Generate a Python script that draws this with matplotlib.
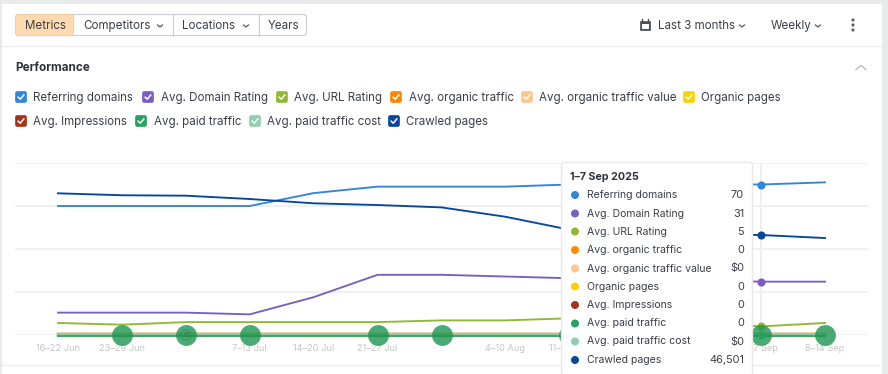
import matplotlib
matplotlib.use("Agg")
from matplotlib import pyplot as plt
from matplotlib.patches import Rectangle, FancyBboxPatch, Circle
from matplotlib.transforms import ScaledTranslation

plt.rcParams['font.family'] = ['Inter', 'DejaVu Sans']

W, H = 888, 374

weeks = ['16–22 Jun', '23–29 Jun', '30 Jun–6 Jul', '7–13 Jul', '14–20 Jul', '21–27 Jul', '28 Jul–3 Aug',
         '4–10 Aug', '11–17 Aug', '18–24 Aug', '25–31 Aug', '1–7 Sep', '8–14 Sep']
shown_weeks = ['16–22 Jun', '23–29 Jun', '7–13 Jul', '14–20 Jul', '21–27 Jul', '4–10 Aug', '11–17 Aug', '1–7 Sep', '8–14 Sep']
event_weeks = ['23–29 Jun', '30 Jun–6 Jul', '7–13 Jul', '21–27 Jul', '28 Jul–3 Aug', '11–17 Aug', '1–7 Sep', '8–14 Sep']

referring_domains = [60, 60, 60, 60, 66, 69, 69, 69, 70, 70, 70, 70, 71]
domain_rating = [13, 13, 13, 12, 22, 35, 35, 34, 33, 32, 32, 31, 31]
url_rating = [7, 6, 7.5, 7.5, 7.5, 7.5, 8.5, 8.5, 9.7, 9, 7, 5, 7]
zeros = [0] * 13
crawled_pages = [65900, 65000, 64800, 63250, 61250, 60450, 59350, 55000, 49000, 48000, 47000, 46501, 45100]

# every metric has its own hidden y scale
scale_domains = 80
scale_rating = 100
scale_crawled = 80000

names = ['Referring domains', 'Avg. Domain Rating', 'Avg. URL Rating', 'Avg. organic traffic',
         'Avg. organic traffic value', 'Organic pages', 'Avg. Impressions', 'Avg. paid traffic',
         'Avg. paid traffic cost', 'Crawled pages']
colors = ['#3385d6', '#7a5fc0', '#8fb935', '#ff8800', '#ffc68c', '#ffd000', '#a5341a', '#25a45f', '#8ed1ae', '#05479e']
tooltip_values = ['70', '31', '5', '0', '$0', '0', '0', '0', '$0', '46,501']

series = [(referring_domains, scale_domains), (domain_rating, scale_rating), (url_rating, scale_rating),
          (zeros, 1), (zeros, 1), (zeros, 1), (zeros, 1), (zeros, 1), (zeros, 1), (crawled_pages, scale_crawled)]

text_dark = '#3b3f4a'
grid_color = '#eeeff1'
border = '#c9ccd1'

fig = plt.figure(figsize=(W / 100, H / 100), dpi=100, facecolor='white')


def px_axes(zorder):
    a = fig.add_axes([0, 0, 1, 1], zorder=zorder)
    a.set_xlim(0, W)
    a.set_ylim(H, 0)
    a.axis('off')
    a.patch.set_alpha(0)
    return a


def chevron(a, x, y, size=2.5, up=False, color='#555a64', lw=0.9):
    d = -size * 0.8 if up else size * 0.8
    a.plot([x - size, x, x + size], [y - d / 2, y + d / 2, y - d / 2], color=color, lw=lw)


bg = px_axes(0)
bg.add_patch(Rectangle((0, 0), W, 4, color='#e9eaec', lw=0))
bg.add_patch(Rectangle((0, 0), 2, H, color='#e9eaec', lw=0))
bg.add_patch(Rectangle((882, 0), 6, H, color='#e9eaec', lw=0))
bg.plot([2, 882], [46, 46], color='#eeeff1', lw=1)
bg.plot([2, 882], [365, 365], color='#eeeff1', lw=1)

# button group
bg.add_patch(FancyBboxPatch((15.5, 14.5), 291, 21, boxstyle='round,pad=0,rounding_size=3', fc='white', ec=border, lw=0.8))
bg.add_patch(FancyBboxPatch((15.5, 14.5), 58, 21, boxstyle='round,pad=0,rounding_size=3', fc='#ffdab0', ec='#f5cfa4', lw=0.8))
for x in [172.5, 258.5]:
    bg.plot([x, x], [14.5, 35.5], color=border, lw=0.8)
for label, x in [('Metrics', 24.5), ('Competitors', 83), ('Locations', 182), ('Years', 268)]:
    bg.text(x, 25.5, label, fontsize=8.35, color=text_dark, va='center')
chevron(bg, 160, 26)
chevron(bg, 246, 26)

# right side controls
bg.add_patch(Rectangle((640, 21), 10, 9, fc='#4a4d55', ec='#4a4d55', lw=0.5))
bg.add_patch(Rectangle((641.5, 24), 7, 4.5, fc='white', lw=0))
bg.plot([642, 642], [19, 21], color='#4a4d55', lw=1)
bg.plot([648, 648], [19, 21], color='#4a4d55', lw=1)
bg.text(658, 25.5, 'Last 3 months', fontsize=8.35, color=text_dark, va='center')
chevron(bg, 742, 26)
bg.text(771, 25.5, 'Weekly', fontsize=8.35, color=text_dark, va='center')
chevron(bg, 818, 26)
for y in [20, 25, 30]:
    bg.add_patch(Circle((853, y), 1.6, color='#5f636b', lw=0))

bg.text(15, 67.5, 'Performance', fontsize=8.4, fontweight='bold', color='#2f323a', va='center')
chevron(bg, 861, 67.5, size=5, up=True, color='#b9bcc2', lw=1)

# metric checkboxes
check_pos = [(15, 33, 97), (142, 161, 97), (276, 294, 97), (390, 409, 97), (521, 539, 97), (683, 701, 97),
             (15, 33, 121), (135, 154, 121), (249, 267, 121), (388, 406, 121)]
for (bx, tx, y), name, c in zip(check_pos, names, colors):
    bg.add_patch(FancyBboxPatch((bx + 0.5, y - 5.5), 11, 11, boxstyle='round,pad=0,rounding_size=2', fc=c, ec=c, lw=0.5))
    bg.plot([bx + 3.2, bx + 5.2, bx + 8.8], [y + 0.2, y + 2.2, y - 2], color='white', lw=1.1)
    bg.text(tx, y + 0.8, name, fontsize=8.3, color=text_dark, va='center')

# chart area, x in week index, y as fraction of the scale
x0 = 58
step = (825 - 58) / 12
left, right, top, bottom = 15, 868, 163, 335
ax = fig.add_axes([left / W, 1 - bottom / H, (right - left) / W, (bottom - top) / H], zorder=1)
ax.set_xlim((left - x0) / step, (right - x0) / step)
ax.set_ylim(0, 1)
ax.patch.set_alpha(0)
for s in ax.spines.values():
    s.set_visible(False)
ax.set_yticks([0, 0.25, 0.5, 0.75, 1])
ax.set_yticklabels([])
ax.grid(axis='y', color=grid_color, lw=1.3)
ax.set_axisbelow(True)
ax.tick_params(length=0, pad=6.5)
ax.set_xticks([weeks.index(w) for w in shown_weeks])
ax.set_xticklabels(shown_weeks, fontsize=6.6, color='#c3c6cb')

xs = list(range(len(weeks)))
hover = weeks.index('1–7 Sep')
ax.axvline(hover, color='#eeeff1', lw=1.3, ymin=0, ymax=1, zorder=1)

shift_up = ax.transData + ScaledTranslation(0, 0.6 / 100, fig.dpi_scale_trans)
shift_down = ax.transData + ScaledTranslation(0, -1 / 100, fig.dpi_scale_trans)
for i, ((vals, scale), c) in enumerate(zip(series, colors)):
    ys = [v / scale for v in vals]
    if scale == 1:
        if names[i] == 'Avg. paid traffic':
            ax.plot(xs, ys, color='#4f9f68', lw=1.6, clip_on=False, transform=shift_down, zorder=3)
        else:
            ax.plot(xs, ys, color=c, lw=1.6, clip_on=False, transform=shift_up, zorder=2)
    else:
        ax.plot(xs, ys, color=c, lw=1.35, clip_on=False, zorder=2)
        ax.scatter([hover], [ys[hover]], s=34, color=c, clip_on=False, zorder=4, lw=0)

# annotation bubbles along the baseline
ax.scatter([weeks.index(w) for w in event_weeks], [0] * len(event_weeks), s=225, color='#1d9550', alpha=0.8,
           clip_on=False, lw=0, zorder=5)
ax.scatter([hover], [0], s=34, color=colors[7], clip_on=False, zorder=6, lw=0)

# tooltip
tip = px_axes(3)
tip.add_patch(FancyBboxPatch((561.5, 162.5), 191, 230, boxstyle='round,pad=0,rounding_size=3', fc='white', ec='#e8e9eb', lw=1, clip_on=True))
tip.text(570, 176.5, '1–7 Sep 2025', fontsize=7.7, fontweight='bold', color='#2f323a', va='center')
row_y = [194.5, 213, 231, 249.5, 268, 286, 304.5, 323, 341, 359.5]
for y, name, val, c in zip(row_y, names, tooltip_values, colors):
    tip.add_patch(Circle((575, y + 0.5), 4, color=c, lw=0))
    tip.text(587, y + 0.5, name, fontsize=7.55, color=text_dark, va='center')
    tip.text(744, y + 0.5, val, fontsize=7.9, color=text_dark, va='center', ha='right')

# the little G in the second bubble
tip.add_patch(Circle((186, 335), 5, fc='none', ec='#38905f', lw=0.7))
tip.text(186, 335, 'G', fontsize=5.5, fontweight='bold', color='#2f8555', ha='center', va='center')

fig.savefig('out.png', dpi=100)
